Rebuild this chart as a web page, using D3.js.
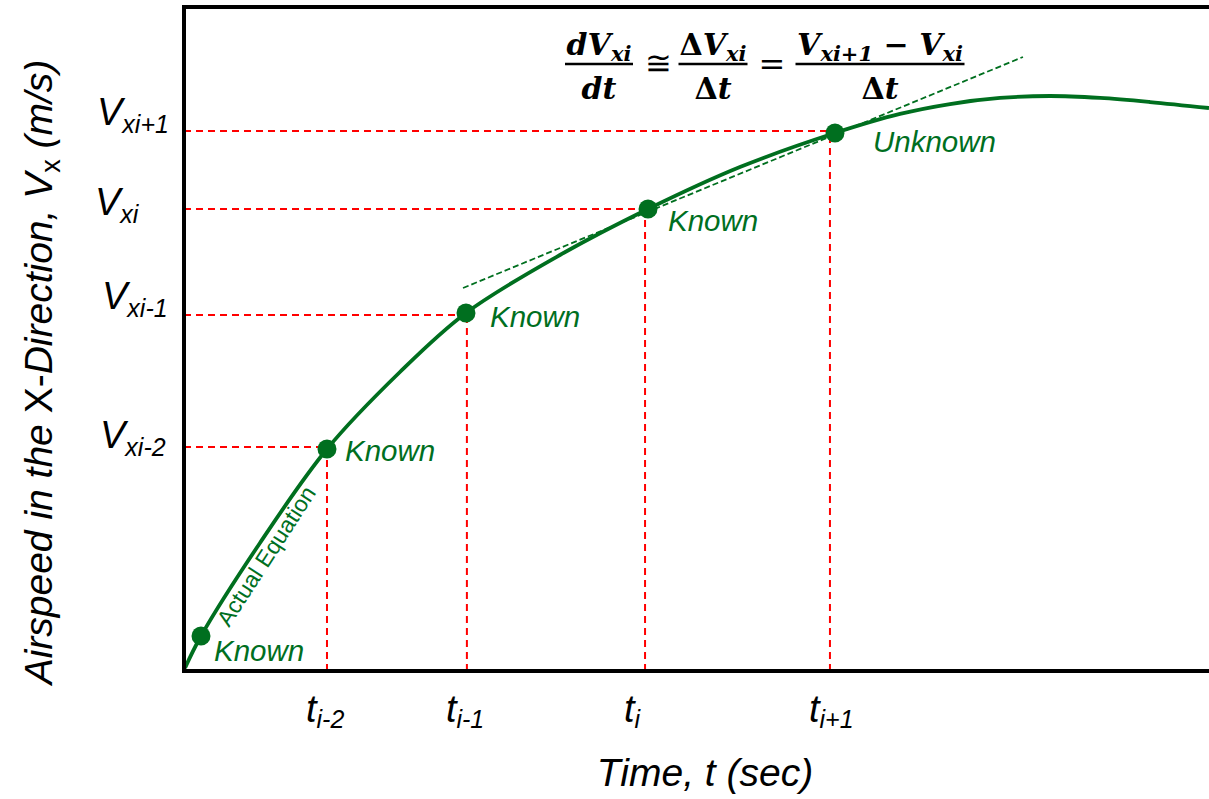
<!DOCTYPE html>
<html>
<head>
<meta charset="utf-8">
<script src="https://cdn.jsdelivr.net/npm/d3@7"></script>
<style>
  body { margin: 0; background: #fff; }
</style>
</head>
<body>
<div id="display"></div>
<script>
var width = 1209,
    height = 799;

// curve of the "actual equation" (time, airspeed) in chart units
var curveT = [0.1, 1.66, 7.41, 13.95, 21.07, 27.51, 36.68, 45.27, 54.24, 63.51, 69.85, 74.73, 79.61, 84.49, 89.37, 94.24, 100];
var curveV = [0.45, 5.27, 19.28, 33.43, 45.03, 53.92, 62.65, 69.58, 75.9, 81.02, 83.89, 85.39, 86.3, 86.6, 86.3, 85.69, 84.79];

// sampled points
var pointT = [1.66, 13.95, 27.51, 45.27, 63.51];
var pointV = [5.27, 33.43, 53.92, 69.58, 81.02];
var pointLabels = ["Known", "Known", "Known", "Known", "Unknown"];

// red guide lines
var guideT = [13.95, 27.6, 44.98, 63.02];
var guideV = [33.73, 53.61, 69.58, 81.33];
var tickT = ["i-2", "i-1", "i", "i+1"];
var tickV = ["xi-2", "xi-1", "xi", "xi+1"];

// tangent (dashed) line ends
var tangentT = [27.22, 81.85];
var tangentV = [57.68, 92.47];

var green = "#006f1f";

var svg = d3.select("#display")
    .append("svg")
    .attr("width", width)
    .attr("height", height)
    .attr("font-family", "Arial, 'Liberation Sans', sans-serif");

var x = d3.scaleLinear().domain([0, 100]).range([184, 1209]);
var y = d3.scaleLinear().domain([0, 100]).range([671, 7]);

// guides first, under the curve
guideT.forEach(function (t, i) {
    svg.append("line")
        .attr("x1", x(t)).attr("x2", x(t))
        .attr("y1", y(0)).attr("y2", y(pointV[i + 1]))
        .attr("stroke", "#ff0000").attr("stroke-width", 2)
        .attr("stroke-dasharray", "7,5");
});
guideV.forEach(function (v, i) {
    svg.append("line")
        .attr("x1", x(0)).attr("x2", x(pointT[i + 1]))
        .attr("y1", y(v)).attr("y2", y(v))
        .attr("stroke", "#ff0000").attr("stroke-width", 2)
        .attr("stroke-dasharray", "7,5");
});

// tangent
svg.append("line")
    .attr("x1", x(tangentT[0])).attr("y1", y(tangentV[0]))
    .attr("x2", x(tangentT[1])).attr("y2", y(tangentV[1]))
    .attr("stroke", green).attr("stroke-width", 1.8)
    .attr("stroke-dasharray", "6,3");

// curve
var line = d3.line()
    .x(function (d, i) { return x(curveT[i]); })
    .y(function (d, i) { return y(curveV[i]); })
    .curve(d3.curveCatmullRom);

svg.append("path")
    .datum(curveT)
    .attr("d", line)
    .attr("fill", "none")
    .attr("stroke", green)
    .attr("stroke-width", 3.8);

// points
svg.selectAll(".pt")
    .data(pointT)
    .enter()
    .append("circle")
    .attr("class", "pt")
    .attr("cx", function (d) { return x(d); })
    .attr("cy", function (d, i) { return y(pointV[i]); })
    .attr("r", 9.5)
    .attr("fill", green);

var labelDx = [13, 18, 24, 20, 38];
var labelDy = [25, 12, 14, 22, 19];
svg.selectAll(".ptlabel")
    .data(pointLabels)
    .enter()
    .append("text")
    .attr("x", function (d, i) { return x(pointT[i]) + labelDx[i]; })
    .attr("y", function (d, i) { return y(pointV[i]) + labelDy[i]; })
    .attr("fill", green)
    .attr("font-size", 29.5)
    .attr("font-style", "italic")
    .text(function (d) { return d; });

svg.append("text")
    .attr("transform", "translate(229,628) rotate(-57)")
    .attr("fill", green)
    .attr("font-size", 23)
    .text("Actual Equation");

// frame
svg.append("path")
    .attr("d", "M1209,7 H184 V671 H1209")
    .attr("fill", "none")
    .attr("stroke", "#000")
    .attr("stroke-width", 4);

// y tick labels
var vdx = [100, 102, 95, 97];
var vdy = [448, 309, 215, 125];
tickV.forEach(function (s, i) {
    var t = svg.append("text")
        .attr("x", vdx[i]).attr("y", vdy[i])
        .attr("font-size", 38).attr("font-style", "italic");
    t.append("tspan").text("V");
    t.append("tspan").attr("font-size", 25).attr("dy", 8).text(s);
});

// x tick labels
tickT.forEach(function (s, i) {
    var t = svg.append("text")
        .attr("x", x(guideT[i]) - 21).attr("y", 722)
        .attr("font-size", 38).attr("font-style", "italic");
    t.append("tspan").text("t");
    t.append("tspan").attr("font-size", 25).attr("dy", 6).text(s);
});

// axis titles
svg.append("text")
    .attr("x", 705).attr("y", 786)
    .attr("text-anchor", "middle")
    .attr("font-size", 39).attr("font-style", "italic")
    .text("Time, t (sec)");

var yt = svg.append("text")
    .attr("transform", "translate(52,372) rotate(-90)")
    .attr("text-anchor", "middle")
    .attr("font-size", 39);
yt.append("tspan").attr("font-style", "italic").text("Airspeed ");
yt.append("tspan").attr("font-style", "italic").text("in the ");
yt.append("tspan").text("X-");
yt.append("tspan").attr("font-style", "italic").text("Direction, V");
yt.append("tspan").attr("font-size", 27).attr("dy", 8).text("x");
yt.append("tspan").attr("font-style", "italic").attr("dy", -8).text(" (m/s)");

// equation
var eq = svg.append("g")
    .attr("font-family", "'DejaVu Serif', serif")
    .attr("font-weight", "bold");

function frac(cx, num, den, w) {
    var n = eq.append("text").attr("x", cx).attr("y", 55).attr("text-anchor", "middle").attr("font-size", 30);
    num.forEach(function (p) {
        n.append("tspan").attr("font-style", p[2] ? "italic" : "normal")
            .attr("font-size", p[1] ? 21 : 30).attr("dy", p[3] || 0).text(p[0]);
    });
    var d = eq.append("text").attr("x", cx).attr("y", 99).attr("text-anchor", "middle").attr("font-size", 30);
    den.forEach(function (p) {
        d.append("tspan").attr("font-style", p[2] ? "italic" : "normal").text(p[0]);
    });
    eq.append("line")
        .attr("x1", cx - w / 2).attr("x2", cx + w / 2)
        .attr("y1", 64).attr("y2", 64)
        .attr("stroke", "#000").attr("stroke-width", 2.5);
}

frac(599, [["dV", 0, 1], ["xi", 1, 1, 6]], [["dt", 0, 1]], 68);
eq.append("text").attr("x", 658).attr("y", 74).attr("text-anchor", "middle")
    .attr("font-size", 32).attr("font-weight", "normal").text("\u2245");
frac(713, [["\u0394", 0, 0], ["V", 0, 1], ["xi", 1, 1, 6]], [["\u0394", 0, 0], ["t", 0, 1]], 69);
eq.append("text").attr("x", 772).attr("y", 75).attr("text-anchor", "middle")
    .attr("font-size", 32).attr("font-weight", "normal").text("=");
frac(880, [["V", 0, 1], ["xi+1", 1, 1, 6], [" \u2212 ", 0, 0, -6], ["V", 0, 1], ["xi", 1, 1, 6]], [["\u0394", 0, 0], ["t", 0, 1]], 169);
</script>
</body>
</html>
